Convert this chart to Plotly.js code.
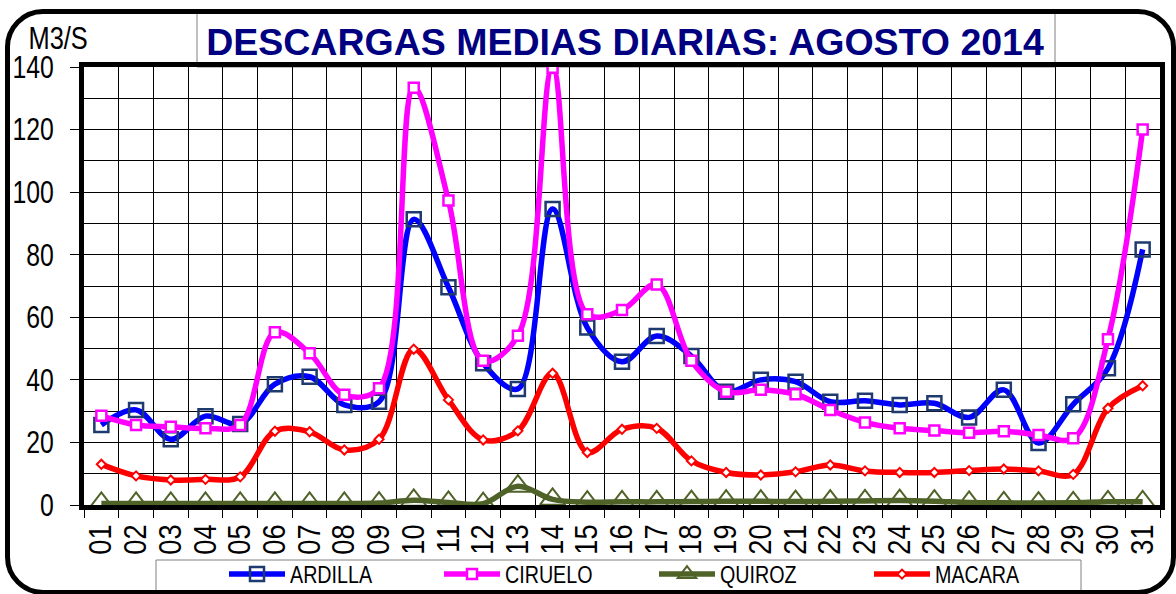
<!DOCTYPE html>
<html>
<head>
<meta charset="utf-8">
<script src="https://cdn.plot.ly/plotly-3.0.1.min.js"></script>
<style>
  html, body { margin:0; padding:0; background:#fff; }
  #wrap { position:relative; width:1176px; height:594px; overflow:hidden; }
  #chart { position:absolute; left:0; top:0; width:1176px; height:594px; }
  #frame { position:absolute; left:5px; top:9px; width:1171px; height:586px; box-sizing:border-box;
           border:5px solid #000; border-radius:38px; pointer-events:none; }
</style>
</head>
<body>
<div id="wrap">
  <div id="chart"></div>
  <div id="frame"></div>
</div>
<script>
// ---- data ----
const days = ['01','02','03','04','05','06','07','08','09','10','11','12','13','14','15','16',
              '17','18','19','20','21','22','23','24','25','26','27','28','29','30','31'];
const ardilla = [25.6, 30.4, 21.0, 28.4, 25.9, 38.6, 41.0, 32.0, 33.0, 91.3, 69.6, 45.3, 37.1, 94.6, 56.7, 45.8,
                 54.0, 47.6, 36.2, 40.0, 39.4, 33.0, 33.3, 32.0, 32.5, 28.0, 36.8, 19.8, 32.2, 43.7, 81.7];
const ciruelo = [28.5, 25.6, 25.0, 24.5, 25.6, 55.2, 48.5, 35.2, 37.3, 133.4, 97.3, 46.1, 54.1, 139.8, 61.0, 62.3,
                 70.5, 46.1, 36.2, 36.8, 35.4, 30.4, 26.4, 24.5, 23.8, 23.1, 23.6, 22.4, 21.3, 53.0, 120.0];
const quiroz  = [0.5, 0.5, 0.5, 0.5, 0.5, 0.5, 0.5, 0.5, 0.6, 1.5, 0.8, 0.4, 6.0, 1.8, 0.9, 1.0,
                 1.0, 1.1, 1.2, 1.2, 1.1, 1.2, 1.3, 1.4, 1.2, 0.8, 0.7, 0.6, 0.7, 1.0, 1.0];
const macara  = [13.0, 9.3, 8.0, 8.2, 9.0, 23.6, 23.4, 17.6, 21.0, 49.8, 33.6, 20.8, 23.7, 42.1, 16.8, 24.2,
                 24.5, 14.1, 10.4, 9.6, 10.6, 12.8, 10.9, 10.4, 10.4, 11.0, 11.5, 10.9, 9.8, 30.9, 38.1];
const seriesNames = ['ARDILLA', 'CIRUELO', 'QUIROZ', 'MACARA'];
const yTickVals = [0, 20, 40, 60, 80, 100, 120, 140];
const titleText = 'DESCARGAS MEDIAS DIARIAS: AGOSTO 2014';
const unitText = 'M3/S';

// ---- layout geometry helpers ----
const W = 1176, H = 594;
const M = { l: 84, r: 16, t: 67, b: 89, autoexpand: false };
const PW = W - M.l - M.r, PH = H - M.t - M.b;
const px = x => (x - M.l) / PW;
const py = y => (H - M.b - y) / PH;

const sans = '"Liberation Sans", Arial, sans-serif';

function trace(y, name, lineColor, marker) {
  return {
    x: days, y: y, name: name, type: 'scatter', mode: 'lines+markers',
    line: { color: lineColor, width: 5.5, shape: 'spline', smoothing: 1 },
    marker: marker
  };
}

const data = [
  trace(ardilla, seriesNames[0], '#0000FF',
        { symbol: 'square-open', size: 14, color: '#1F3A6E', line: { width: 2.5, color: '#1F3A6E' } }),
  trace(ciruelo, seriesNames[1], '#FF00FF',
        { symbol: 'square', size: 10, color: '#FFFFFF', line: { width: 2.5, color: '#FF00FF' } }),
  trace(quiroz, seriesNames[2], '#4F6228',
        { symbol: 'triangle-up-open', size: 22, color: '#4F6228', line: { width: 2, color: '#4F6228' } }),
  trace(macara, seriesNames[3], '#FF0000',
        { symbol: 'diamond', size: 7, color: '#FFFFFF', line: { width: 2, color: '#FF0000' } })
];

const layout = {
  width: W, height: H,
  margin: M,
  paper_bgcolor: '#FFFFFF', plot_bgcolor: '#FFFFFF',
  showlegend: true,
  title: {
    text: titleText,
    font: { family: sans, size: 37.5, color: '#000080', weight: 'bold' },
    xref: 'container', x: 625 / W, xanchor: 'center',
    yref: 'container', y: 1 - 42 / H, yanchor: 'middle'
  },
  xaxis: {
    type: 'category', automargin: false,
    range: [-0.5, days.length - 0.5],
    tickmode: 'array', tickvals: days, ticktext: days,
    tickson: 'boundaries',
    ticks: 'outside', ticklen: 8, tickcolor: '#000', tickwidth: 1,
    tickangle: -90,
    tickfont: { family: sans, size: 31, color: '#000' },
    ticklabelstandoff: 2,
    showgrid: true, gridcolor: '#000', gridwidth: 1,
    showline: true, linecolor: '#000', linewidth: 5, mirror: true,
    zeroline: false, fixedrange: true
  },
  yaxis: {
    range: [0, 140], automargin: false,
    tickmode: 'array', tickvals: yTickVals,
    ticks: 'outside', ticklen: 9, tickcolor: '#000', tickwidth: 1,
    tickfont: { family: sans, size: 31, color: '#000' },
    ticklabelstandoff: 10,
    showgrid: true, gridcolor: '#000', gridwidth: 1,
    minor: { dtick: 10, showgrid: true, gridcolor: '#000', gridwidth: 1, ticks: '' },
    showline: true, linecolor: '#000', linewidth: 5, mirror: true,
    zeroline: false, fixedrange: true
  },
  legend: {
    orientation: 'h',
    x: px(224), xanchor: 'left',
    y: py(552), yanchor: 'top',
    font: { family: sans, size: 24, color: '#000' },
    bgcolor: 'rgba(0,0,0,0)', borderwidth: 0,
    entrywidth: 144, entrywidthmode: 'pixels',
    itemwidth: 56, traceorder: 'normal'
  },
  shapes: [
    { type: 'rect', xref: 'paper', yref: 'paper', layer: 'below',
      x0: px(197), x1: px(1055), y0: py(67), y1: py(12),
      line: { color: '#808080', width: 1 }, fillcolor: '#FFFFFF' },
    { type: 'rect', xref: 'paper', yref: 'paper', layer: 'below',
      x0: px(156), x1: px(1081), y0: py(600), y1: py(560),
      line: { color: '#808080', width: 1 }, fillcolor: 'rgba(0,0,0,0)' }
  ],
  annotations: [
    { text: unitText, xref: 'paper', yref: 'paper', x: px(58), y: py(39),
      xanchor: 'center', yanchor: 'middle', showarrow: false,
      font: { family: sans, size: 31, color: '#000' } }
  ]
};

// condense texts (reference uses a narrow typeface) while keeping them real text
function squeeze(gd, selector, f) {
  gd.querySelectorAll(selector).forEach(t => {
    const w = t.getComputedTextLength();
    if (w > 0) {
      t.setAttribute('textLength', (w * f).toFixed(2));
      t.setAttribute('lengthAdjust', 'spacingAndGlyphs');
    }
  });
}

Plotly.newPlot('chart', data, layout, { displayModeBar: false, staticPlot: true }).then(gd => {
  squeeze(gd, '.ytick text', 0.8);
  squeeze(gd, '.xtick text', 0.88);
  squeeze(gd, '.legendtext', 0.82);
  squeeze(gd, '.annotation-text', 0.82);
});
</script>
</body>
</html>
